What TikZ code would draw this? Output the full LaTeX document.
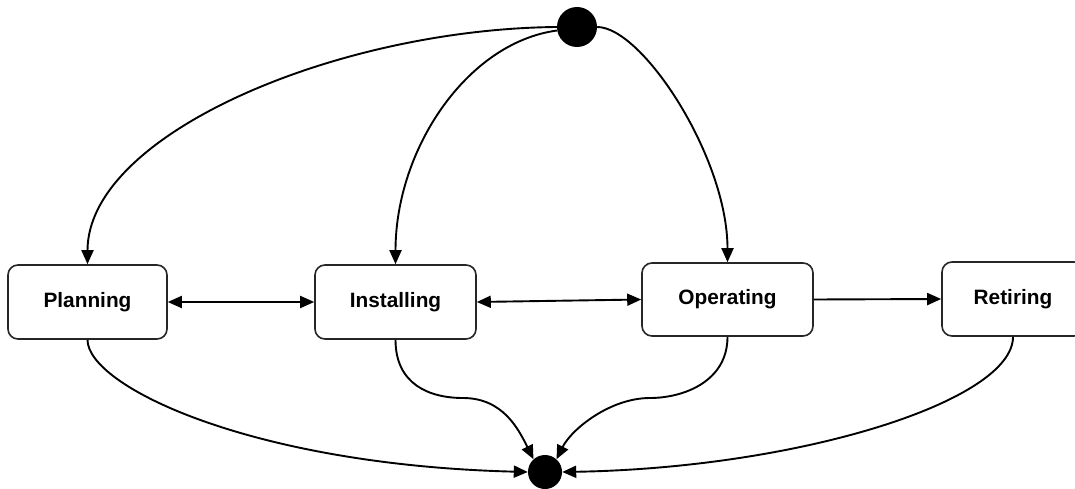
\documentclass[tikz,border=0pt]{standalone}
\usepackage{fontspec}
\setmainfont{Liberation Sans}
\usetikzlibrary{arrows.meta}
\begin{document}
\begin{tikzpicture}[x=1pt,y=-1pt,
  statebox/.style={draw=black!85,line width=1.6pt,rounded corners=10pt,fill=white,
    inner sep=0pt,minimum height=74pt,font=\fontsize{20.8}{24}\selectfont\bfseries},
  dot/.style={circle,fill=black,draw=none,inner sep=0pt},
  arr/.style={line width=1.9pt,-{Triangle[length=14pt,width=12pt]}},
  darr/.style={line width=1.9pt,{Triangle[length=14pt,width=12pt]}-{Triangle[length=14pt,width=12pt]}}]
\useasboundingbox (0,0) rectangle (1075,489);
\node[dot,minimum size=40pt] (top) at (577,27) {};
\node[dot,minimum size=34pt] (bot) at (545,472) {};
\node[statebox,minimum width=159pt] (plan) at (87.5,302) {Planning};
\node[statebox,minimum width=161pt] (inst) at (395.5,302) {Installing};
\node[statebox,minimum width=171pt,minimum height=73pt] (oper) at (727.5,299.5) {Operating};
\node[statebox,minimum width=142pt] (ret) at (1013,299) {Retiring};
% from initial
\draw[arr] (top.180) .. controls +(-220,2) and +(0,-130) .. (plan.north);
\draw[arr] (top.190) .. controls +(-90,12) and +(0,-115) .. (inst.north);
\draw[arr] (top.east) .. controls +(45,0) and +(0,-105) .. (oper.north);
% horizontal
\draw[darr] (plan.east) -- (inst.west);
\draw[darr] (inst.east) -- (oper.west);
\draw[arr] (oper.east) -- (ret.west);
% to final
\draw[arr] (plan.south) .. controls +(0,46) and +(-278,-7) .. (bot.west);
\coordinate (im) at (463,398);
\coordinate (om) at (650,398);
\draw[arr] (inst.south) .. controls +(0,45) and +(-33,0) .. (im)
  .. controls +(40,0) and +(-15,-30) .. (bot.132);
\draw[arr] (oper.south) .. controls +(0,45) and +(33,0) .. (om)
  .. controls +(-40,0) and +(15,-30) .. (bot.48);
\draw[arr] (ret.south) .. controls +(0,64) and +(238,-4) .. (bot.east);
\end{tikzpicture}
\end{document}
